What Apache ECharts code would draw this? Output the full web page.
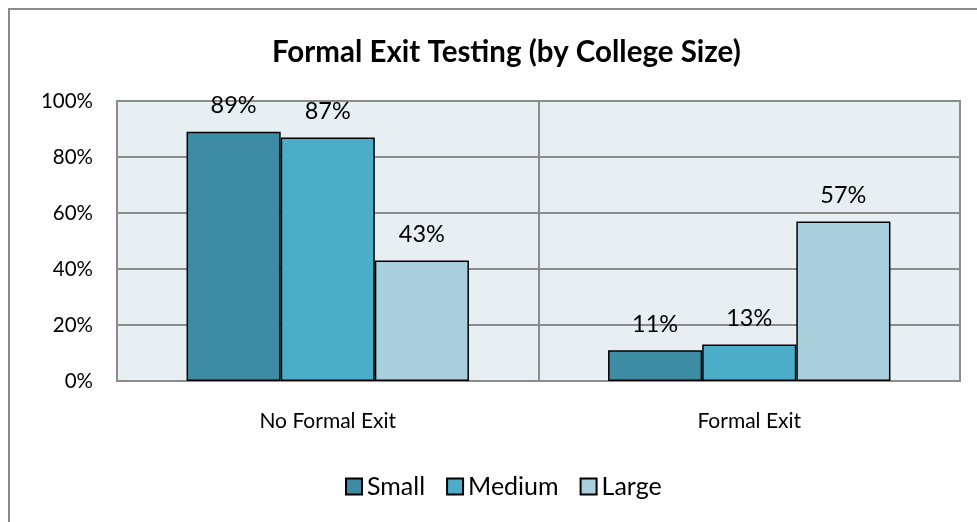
<!DOCTYPE html>
<html><head><meta charset="utf-8">
<script src="https://cdn.jsdelivr.net/npm/echarts@6/dist/echarts.min.js"></script>
<style>html,body{margin:0;padding:0;background:#fff}#c{width:977px;height:522px}</style>
</head><body><div id="c"></div>
<script>
const categories = ['No Formal Exit', 'Formal Exit'];
const small = [89, 11];
const medium = [87, 13];
const large = [43, 57];
const yTicks = [0, 20, 40, 60, 80, 100];

const FONT = 'Lato, "Open Sans", sans-serif';
const chart = echarts.init(document.getElementById('c'), null, {renderer: 'canvas'});
function mk(name, data, color) {
  return {
    name, type: 'bar', data, barGap: '0%', barCategoryGap: '33%',
    itemStyle: {color, borderColor: '#000', borderWidth: 1.5},
    label: {show: true, position: 'top', distance: 14, formatter: '{c}%', color: '#000', fontSize: 23.5, fontFamily: FONT}
  };
}
chart.setOption({
  animation: false,
  backgroundColor: '#fff',
  title: {text: 'Formal Exit Testing (by College Size)', left: 267, top: 32,
    textStyle: {fontFamily: FONT, fontWeight: 'bold', fontSize: 29.5, color: '#000'}},
  graphic: [{type: 'rect', shape: {x: 9, y: 9, width: 1000, height: 600}, style: {fill: 'none', stroke: '#8a8a8a', lineWidth: 2}, silent: true}],
  legend: {bottom: 18, left: 340, itemWidth: 16, itemHeight: 16, itemGap: 21, icon: 'rect',
    textStyle: {fontFamily: FONT, fontSize: 25, color: '#000', padding: [0, 0, 0, 0]},
    data: ['Small', 'Medium', 'Large']},
  grid: {left: 117, right: 17, top: 101, bottom: 141, show: true, backgroundColor: '#e8eff3', borderColor: '#8c8c8c', borderWidth: 2},
  xAxis: {type: 'category', data: categories,
    axisLine: {show: false}, axisTick: {show: false},
    splitLine: {show: true, lineStyle: {color: '#8c8c8c', width: 2}},
    axisLabel: {fontFamily: FONT, fontSize: 21, color: '#000', margin: 30}},
  yAxis: {type: 'value', min: yTicks[0], max: yTicks[yTicks.length - 1], interval: 20,
    axisLine: {show: false}, axisTick: {show: false},
    splitLine: {lineStyle: {color: '#8c8c8c', width: 2}},
    axisLabel: {fontFamily: FONT, fontSize: 20.5, color: '#000', margin: 24, formatter: '{value}%'}},
  series: [mk('Small', small, '#3d8ca4'), mk('Medium', medium, '#4badc7'), mk('Large', large, '#a9cfdd')]
});
</script></body></html>
